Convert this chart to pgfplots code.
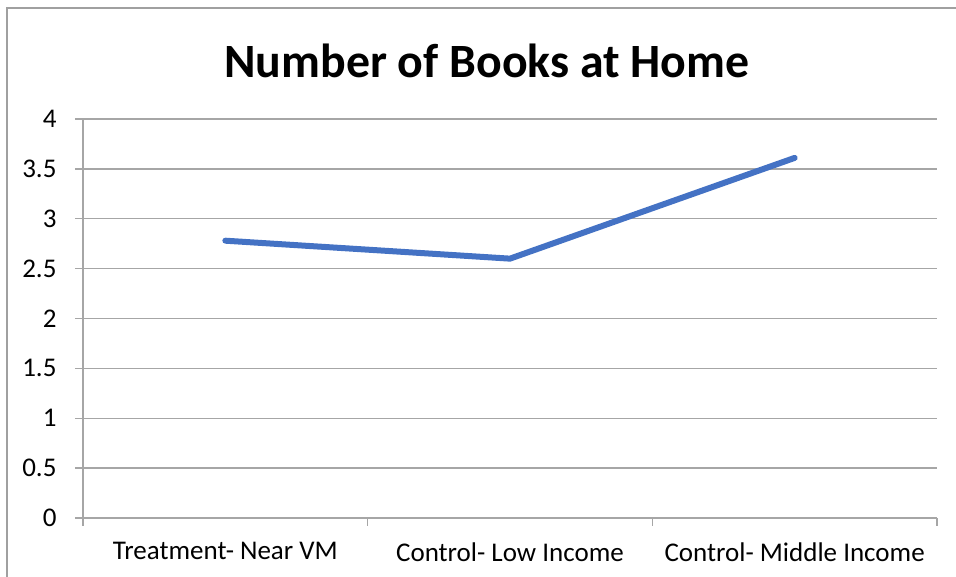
\documentclass[border=0pt]{standalone}
\usepackage{pgfplots}
\pgfplotsset{compat=1.18}
\usepackage{fontspec}
\setmainfont{Carlito}
\usetikzlibrary{calc}

\definecolor{xlblue}{RGB}{68,114,196}
\definecolor{xlgrid}{RGB}{166,166,166}
\definecolor{xlframe}{RGB}{160,160,160}

\begin{document}
\begin{tikzpicture}
  \begin{axis}[
      name=ax,
      scale only axis,
      width=854pt, height=399pt,
      xmin=0.5, xmax=3.5,
      ymin=0, ymax=4,
      xtick={1,2,3},
      xticklabels={Treatment- Near VM, Control- Low Income, Control- Middle Income},
      minor xtick={0.5,1.5,2.5,3.5},
      ytick={0,0.5,1,1.5,2,2.5,3,3.5,4},
      yticklabels={0,0.5,1,1.5,2,2.5,3,3.5,4},
      axis x line*=bottom,
      axis y line*=left,
      axis line style={-, draw=xlgrid, line width=1.3pt},
      ymajorgrids,
      grid style={draw=xlgrid, line width=1.3pt},
      tick align=outside,
      x tick style={draw=xlgrid, line width=1.3pt},
      y tick style={draw=xlgrid, line width=1.3pt},
      xtick style={draw=none},
      minor x tick style={draw=xlgrid, line width=1.3pt},
      major tick length=8pt,
      minor tick length=8pt,
      tick label style={font=\fontsize{27}{31}\selectfont, text=black},
      yticklabel style={xshift=-15pt},
      xticklabel style={yshift=-13pt},
      clip=false,
    ]
    \addplot[xlblue, line width=6pt, line cap=round, line join=round] coordinates {
      (1,2.78) (2,2.60) (3,3.61)
    };
  \end{axis}
  \node[anchor=base, font=\fontsize{47.8}{55}\selectfont\bfseries]
    at ($(ax.north west)+(404pt,41pt)$) {Number of Books at Home};
  \draw[xlframe, line width=1.5pt]
    ($(ax.south west)+(-76pt,-70pt)$) -- ($(ax.north west)+(-76pt,111pt)$)
    -- ($(ax.north east)+(30pt,111pt)$);
  \pgfresetboundingbox
  \useasboundingbox ($(ax.south west)+(-83pt,-59pt)$) rectangle ($(ax.north east)+(19pt,119pt)$);
\end{tikzpicture}
\end{document}
